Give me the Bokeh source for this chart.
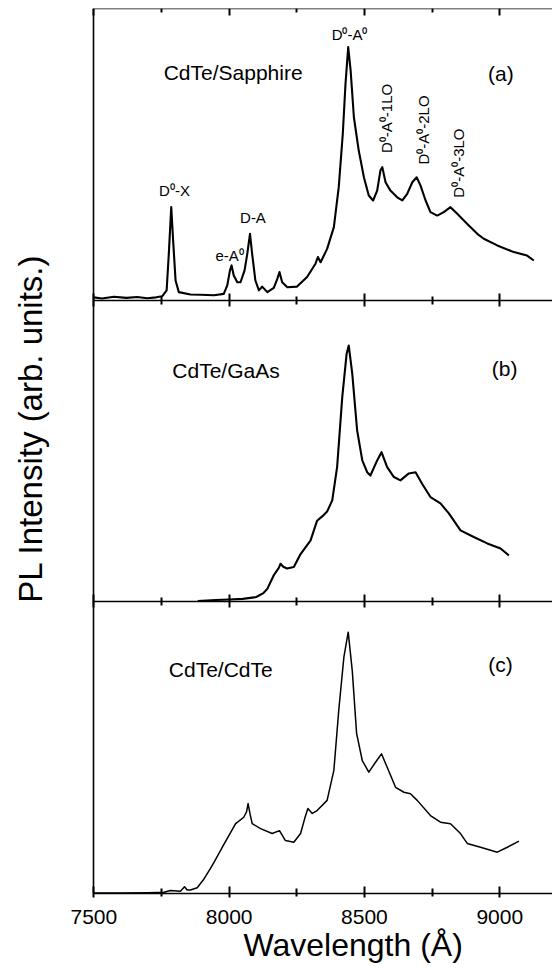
from math import pi
from bokeh.plotting import figure
from bokeh.models import Range1d, LinearAxis, FixedTicker, Label, Title
from bokeh.embed import file_html
from bokeh.resources import INLINE

# ---------------- data ----------------
major_ticks = [7500, 8000, 8500, 9000]
minor_ticks = [7750, 8250, 8750]

# (a) CdTe/Sapphire
wl_a = [7500, 7530, 7574, 7620, 7660, 7697, 7730, 7753, 7769, 7777, 7786, 7793, 7802, 7814,
        7857, 7894, 7944, 7980, 7993, 8003, 8009, 8017, 8030, 8042, 8057, 8067, 8077, 8085,
        8097, 8110, 8122, 8141, 8165, 8178, 8186, 8196, 8215, 8251, 8288, 8319, 8328, 8338,
        8362, 8387, 8405, 8420, 8430, 8440, 8449, 8461, 8479, 8498, 8516, 8532, 8547, 8559,
        8566, 8578, 8596, 8621, 8640, 8658, 8677, 8693, 8707, 8726, 8744, 8769, 8793, 8818,
        8843, 8880, 8917, 8941, 8991, 9052, 9101, 9126]
int_a = [0.004, 0.0, 0.006, 0.002, 0.005, 0.001, 0.004, 0.008, 0.028, 0.154, 0.315, 0.2, 0.062, 0.022,
         0.014, 0.013, 0.011, 0.016, 0.045, 0.097, 0.114, 0.079, 0.056, 0.056, 0.097, 0.154, 0.223, 0.154,
         0.062, 0.028, 0.041, 0.022, 0.037, 0.068, 0.091, 0.056, 0.039, 0.041, 0.074, 0.12, 0.143, 0.125,
         0.171, 0.246, 0.384, 0.568, 0.74, 0.867, 0.786, 0.625, 0.51, 0.418, 0.355, 0.338, 0.372, 0.441,
         0.453, 0.401, 0.372, 0.349, 0.338, 0.361, 0.401, 0.418, 0.39, 0.338, 0.298, 0.286, 0.298, 0.315,
         0.292, 0.257, 0.223, 0.206, 0.183, 0.16, 0.148, 0.131]

# (b) CdTe/GaAs
wl_b = [7884, 7950, 8000, 8050, 8100, 8125, 8141, 8165, 8184, 8190, 8200, 8214, 8239, 8264,
        8301, 8325, 8345, 8362, 8381, 8399, 8418, 8434, 8442, 8455, 8473, 8492, 8510, 8522,
        8547, 8563, 8584, 8609, 8633, 8664, 8689, 8713, 8744, 8781, 8812, 8855, 8904, 8954,
        9003, 9034]
int_b = [0.005, 0.008, 0.01, 0.012, 0.018, 0.03, 0.045, 0.09, 0.115, 0.128, 0.118, 0.112, 0.117, 0.16,
         0.205, 0.27, 0.285, 0.30, 0.337, 0.447, 0.678, 0.82, 0.848, 0.755, 0.568, 0.469, 0.43, 0.419,
         0.469, 0.496, 0.447, 0.414, 0.403, 0.426, 0.43, 0.392, 0.348, 0.327, 0.294, 0.238, 0.216, 0.195,
         0.178, 0.155]

# (c) CdTe/CdTe
wl_c = [7500, 7600, 7700, 7759, 7783, 7820, 7835, 7845, 7857, 7882, 7907, 7931, 7944, 7980,
        8024, 8054, 8064, 8070, 8078, 8085, 8116, 8159, 8186, 8208, 8239, 8264, 8280, 8291,
        8307, 8325, 8362, 8387, 8405, 8424, 8440, 8455, 8471, 8492, 8516, 8541, 8563, 8584,
        8615, 8646, 8670, 8695, 8744, 8781, 8818, 8855, 8880, 8929, 8991, 9028, 9071]
int_c = [0.002, 0.002, 0.003, 0.004, 0.01, 0.008, 0.023, 0.012, 0.012, 0.02, 0.05, 0.086, 0.107, 0.168,
         0.24, 0.262, 0.28, 0.309, 0.27, 0.24, 0.223, 0.206, 0.216, 0.182, 0.176, 0.206, 0.26, 0.292,
         0.275, 0.285, 0.32, 0.423, 0.629, 0.812, 0.898, 0.766, 0.55, 0.457, 0.417, 0.451, 0.48, 0.434,
         0.365, 0.348, 0.343, 0.32, 0.268, 0.245, 0.24, 0.206, 0.172, 0.159, 0.142, 0.159, 0.18]

# ---------------- layout ----------------
FONT = "Liberation Sans"
X_LO, X_HI = 7500, 9195              # drawn wavelength window (spine at 7500)
X_VIEW_LO = 7155                     # frame starts left of the spine to leave room for the y title
TOP_PX, BOT_PX = 8.0, 893.0          # frame extent on the page
PANEL_PX = {"a": (298.0, 8.0), "b": (602.0, 299.0), "c": (893.0, 602.0)}   # (zero, one) pixel rows
BOUNDARY_PX = [300.0, 601.0]


def panel_range(zero, one):
    s = zero - one
    return Range1d((zero - BOT_PX) / s, (zero - TOP_PX) / s)


def frac(ypx):
    return (BOT_PX - ypx) / (BOT_PX - TOP_PX)


p = figure(width=552, height=972, x_range=Range1d(X_VIEW_LO, X_HI), y_range=Range1d(0, 1),
           x_axis_location=None, y_axis_location=None,
           output_backend="svg", toolbar_location=None,
           min_border_left=0, min_border_right=0, min_border_top=8, min_border_bottom=79)
p.outline_line_color = None
p.grid.visible = False
p.background_fill_color = "white"
p.border_fill_color = "white"
p.extra_y_ranges = {k: panel_range(*v) for k, v in PANEL_PX.items()}

ticker = FixedTicker(ticks=major_ticks, minor_ticks=minor_ticks)
blank = {t: "" for t in major_ticks}
tick_style = dict(axis_line_width=1.6, major_tick_line_width=2, minor_tick_line_width=2,
                  axis_line_color="black", major_tick_line_color="black",
                  minor_tick_line_color="black")

# bottom wavelength axis
xa = LinearAxis(ticker=ticker, bounds=(X_LO, X_HI),
                major_label_text_font=FONT, major_label_text_font_size="21px",
                major_label_text_color="black", major_label_standoff=12,
                major_tick_in=7, major_tick_out=4, minor_tick_in=5, minor_tick_out=3, **tick_style)
p.add_layout(xa, "below")

# left spine (no ticks)
ya = LinearAxis(fixed_location=X_LO, ticker=FixedTicker(ticks=[]),
                major_tick_in=0, major_tick_out=0, minor_tick_in=0, minor_tick_out=0,
                axis_line_width=1.6, axis_line_color="black")
p.add_layout(ya, "left")


def inner_axis(loc, tick_out, minor_out):
    return LinearAxis(fixed_location=loc, ticker=ticker, bounds=(X_LO, X_HI),
                      major_label_overrides=blank, major_label_text_font_size="1px",
                      major_label_standoff=0,
                      major_tick_in=7, major_tick_out=tick_out,
                      minor_tick_in=4, minor_tick_out=minor_out, **tick_style)


p.add_layout(inner_axis(1.0, 0, 0), "above")
for b in BOUNDARY_PX:
    p.add_layout(inner_axis(frac(b), 6, 4), "below")

# spectra
p.line(wl_a, int_a, y_range_name="a", line_color="black", line_width=2.1, line_join="round")
p.line(wl_b, int_b, y_range_name="b", line_color="black", line_width=2.1, line_join="round")
p.line(wl_c, int_c, y_range_name="c", line_color="black", line_width=1.5, line_join="round")

# annotations
big = [("CdTe/Sapphire", 7758, 0.778, "a", "left"), ("(a)", 9004, 0.775, "a", "center"),
       ("CdTe/GaAs", 7790, 0.766, "b", "left"), ("(b)", 9018, 0.772, "b", "center"),
       ("CdTe/CdTe", 7777, 0.77, "c", "left"), ("(c)", 9003, 0.787, "c", "center")]
for txt, x, y, r, al in big:
    p.add_layout(Label(x=x, y=y, y_range_name=r, text=txt, text_font=FONT, text_font_size="21px",
                       text_align=al, text_baseline="middle", text_color="black"))

small = [("D⁰-X", 7798, 0.372, 0), ("e-A⁰", 8002, 0.148, 0), ("D-A", 8088, 0.279, 0),
         ("D⁰-A⁰", 8445, 0.91, 0),
         ("D⁰-A⁰-1LO", 8581, 0.621, pi / 2), ("D⁰-A⁰-2LO", 8717, 0.581, pi / 2),
         ("D⁰-A⁰-3LO", 8846, 0.467, pi / 2)]
for txt, x, y, ang in small:
    p.add_layout(Label(x=x, y=y, y_range_name="a", text=txt, text_font=FONT, text_font_size="15px",
                       text_align="center", text_baseline="middle", angle=ang, text_color="black"))

# axis titles
p.add_layout(Label(x=X_LO, y=frac(428), x_offset=-63, angle=pi / 2,
                   text="PL Intensity (arb. units.)", text_font=FONT, text_font_size="33px",
                   text_align="center", text_baseline="middle", text_color="black"))
p.add_layout(Title(text="Wavelength (Å)", align="left", vertical_align="top",
                   offset=243, standoff=0, text_font=FONT, text_font_size="32px",
                   text_font_style="normal", text_color="black"), "below")

open("out.html", "w").write(file_html(p, INLINE))
